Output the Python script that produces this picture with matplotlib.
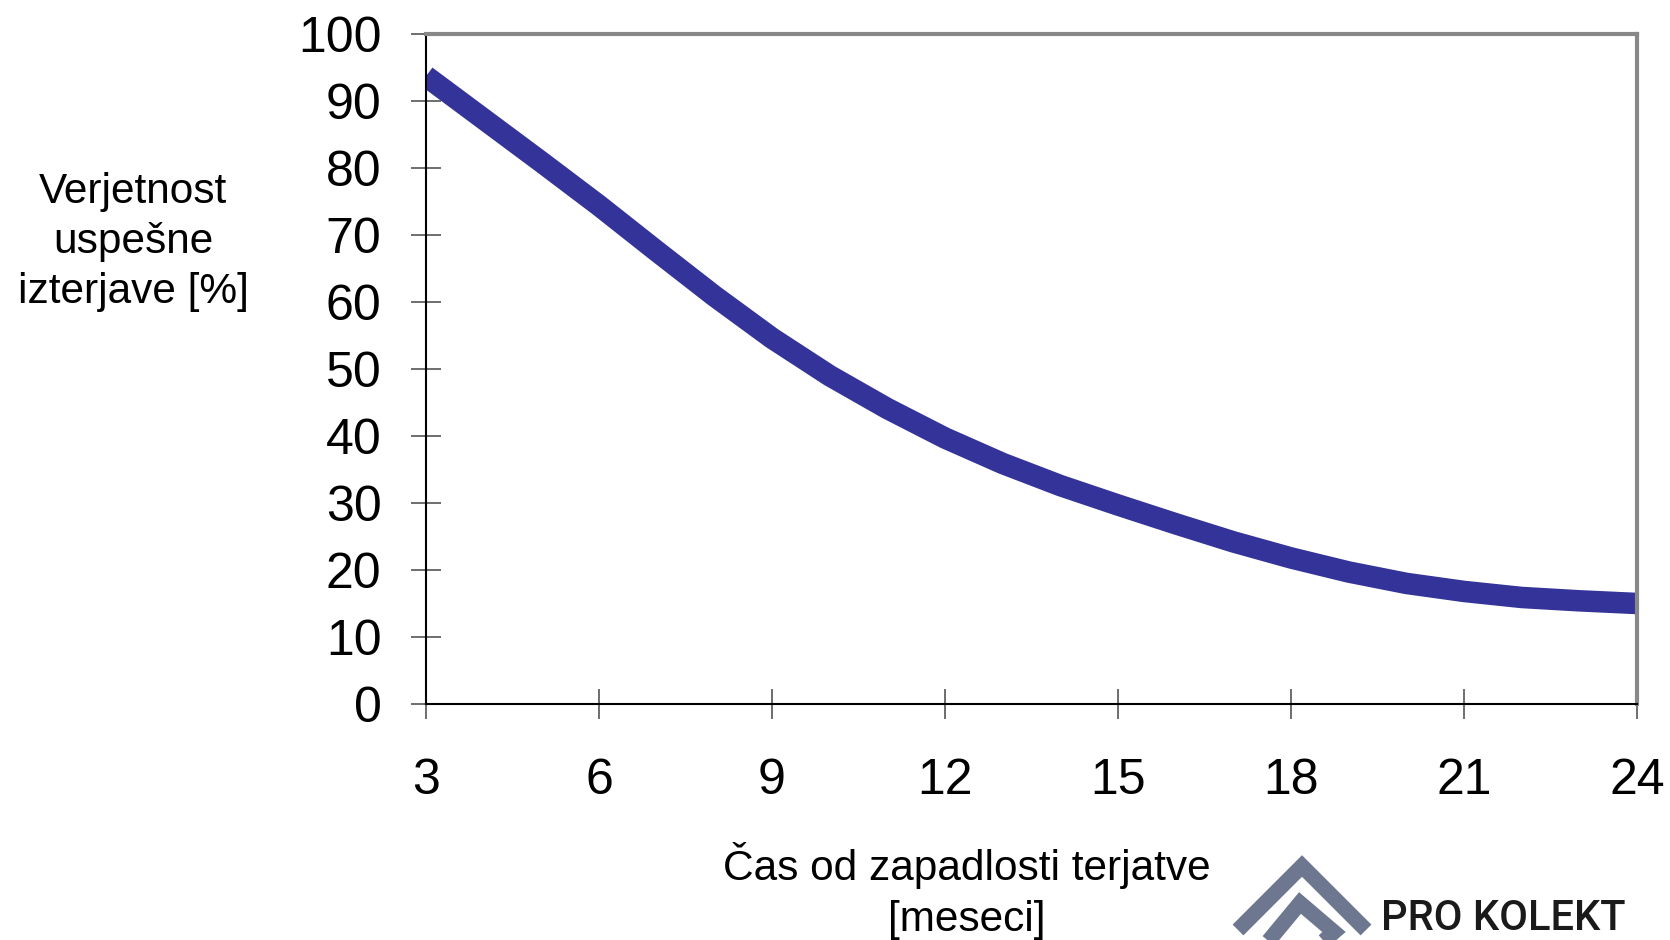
import numpy as np
import matplotlib.pyplot as plt
from matplotlib.lines import Line2D

plt.rcParams['font.family'] = ['Liberation Sans', 'DejaVu Sans']

# months since due date and recovery probability
months = [3, 4, 5, 6, 7, 8, 9, 10, 11, 12, 13, 14,
          15, 16, 17, 18, 19, 20, 21, 22, 23, 24]
probability = [93.7, 87.3, 80.9, 74.4, 67.6, 60.9, 54.6, 49.0, 44.1, 39.7, 35.9, 32.6,
               29.7, 26.9, 24.2, 21.8, 19.7, 18.0, 16.8, 15.9, 15.4, 15.0]

x_ticks = [3, 6, 9, 12, 15, 18, 21, 24]
y_ticks = [0, 10, 20, 30, 40, 50, 60, 70, 80, 90, 100]

W, H = 1670, 940
fig = plt.figure(figsize=(W / 100, H / 100), dpi=100)
ax = fig.add_axes([426 / W, 1 - 704 / H, (1637 - 426) / W, (704 - 34) / H])

ax.plot(months, probability, color='#333399', lw=15.5, solid_capstyle='butt',
        solid_joinstyle='round')

ax.set_xlim(3, 24)
ax.set_ylim(0, 100)
ax.set_xticks(x_ticks)
ax.set_yticks(y_ticks)

# spines: left/bottom black, top/right grey frame
for s in ['left', 'bottom']:
    ax.spines[s].set_color('black')
    ax.spines[s].set_linewidth(1.5)
for s in ['top', 'right']:
    ax.spines[s].set_color('#888888')
    ax.spines[s].set_linewidth(3)

ax.tick_params(axis='y', direction='inout', length=22, width=1.2, color='#555555',
               labelsize=36, pad=21)
ax.tick_params(axis='x', direction='inout', length=22, width=1.2, color='#555555',
               labelsize=36, pad=28)

fig.text(133 / W, 1 - 242 / H, 'Verjetnost\nuspešne\nizterjave [%]', ha='center',
         va='center', fontsize=30.5, linespacing=1.33)
fig.text(967 / W, 1 - 891 / H, 'Čas od zapadlosti terjatve\n[meseci]', ha='center',
         va='center', fontsize=30.5, linespacing=1.33)

# logo in the bottom right corner
logo_col = '#6e7790'
outer = [(1238, 930), (1302, 866), (1366, 930)]
inner = [(1266, 944), (1300, 903), (1334, 932), (1318, 946)]
for pts in (outer, inner):
    xs = [p[0] / W for p in pts]
    ys = [1 - p[1] / H for p in pts]
    fig.add_artist(Line2D(xs, ys, color=logo_col, lw=11, solid_joinstyle='miter',
                          solid_capstyle='butt', transform=fig.transFigure))
fig.text(1381 / W, 1 - 919 / H, 'PRO KOLEKT', ha='left', va='center', fontsize=30,
         color='#1a1a1a', family='Roboto', fontweight='medium')

fig.savefig('out.png', dpi=100, facecolor='white')
